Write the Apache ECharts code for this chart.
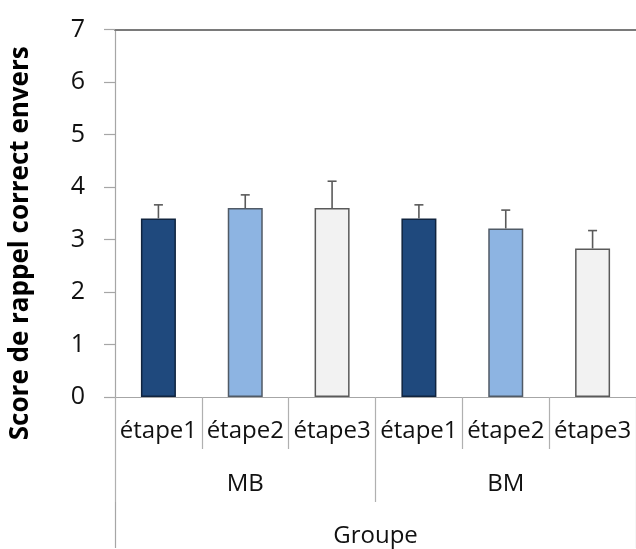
<!DOCTYPE html>
<html>
<head>
<meta charset="utf-8">
<script src="https://cdn.jsdelivr.net/npm/echarts@6/dist/echarts.min.js"></script>
<style>
html,body{margin:0;padding:0;background:#fff;}
#chart{width:636px;height:549px;}
</style>
</head>
<body>
<div id="chart"></div>
<script>
const categories = ['étape1','étape2','étape3','étape1','étape2','étape3'];
const groups = ['MB','BM'];
const outerLabel = ['Groupe'];
const values = [3.40, 3.60, 3.60, 3.40, 3.21, 2.83];
const errors = [0.26, 0.25, 0.51, 0.26, 0.35, 0.34];
const yTicks = [0, 1, 2, 3, 4, 5, 6, 7];
const yTitle = 'Score de rappel correct envers';

const fills = ['#1f497d','#8db4e2','#f2f2f2','#1f497d','#8db4e2','#f2f2f2'];
const borders = ['#10243f','#505a66','#5a5a5a','#10243f','#505a66','#5a5a5a'];

const FONT = 'Open Sans';
const chart = echarts.init(document.getElementById('chart'));

const barData = values.map((v, i) => ({
  value: v,
  itemStyle: { color: fills[i], borderColor: borders[i], borderWidth: 1.5 }
}));
const errData = values.map((v, i) => [i, v, errors[i]]);

chart.setOption({
  animation: false,
  backgroundColor: '#ffffff',
  grid: { left: 115, right: -9, top: 29.5, bottom: 151 },
  xAxis: [
    {
      type: 'category', data: categories, position: 'bottom',
      axisLine: { show: true, lineStyle: { color: '#a6a6a6', width: 1.2 } },
      axisTick: { show: true, interval: 0, length: 52, lineStyle: { color: '#b0b0b0', width: 1.2 } },
      axisLabel: { interval: 0, margin: 22, fontFamily: FONT, fontSize: 24, lineHeight: 25, color: '#111' }
    },
    {
      type: 'category', data: groups, position: 'bottom', offset: 52,
      axisLine: { show: false },
      axisTick: { show: true, interval: 0, length: 53, lineStyle: { color: '#b0b0b0', width: 1.2 } },
      axisLabel: { interval: 0, margin: 23, fontFamily: FONT, fontSize: 24, lineHeight: 25, color: '#111' }
    },
    {
      type: 'category', data: outerLabel, position: 'bottom', offset: 105,
      axisLine: { show: false },
      axisTick: { show: true, interval: 0, length: 46, lineStyle: { color: '#a6a6a6', width: 1.2 } },
      axisLabel: { interval: 0, margin: 22, fontFamily: FONT, fontSize: 24, lineHeight: 25, color: '#111' }
    },
    {
      type: 'category', data: categories, position: 'top',
      axisLine: { show: true, lineStyle: { color: '#7a7a7a', width: 2 } },
      axisTick: { show: false },
      axisLabel: { show: false }
    }
  ],
  yAxis: {
    type: 'value', min: yTicks[0], max: yTicks[yTicks.length - 1], interval: 1,
    name: yTitle, nameLocation: 'middle', nameRotate: 90, nameGap: 81,
    nameTextStyle: { fontFamily: FONT, fontWeight: 'bold', fontSize: 26, color: '#000', padding: [0, 60, 0, 0] },
    axisLine: { show: true, lineStyle: { color: '#a6a6a6', width: 1.2 } },
    axisTick: { show: true, inside: false, length: 11, lineStyle: { color: '#a6a6a6', width: 1.2 } },
    axisLabel: { margin: 30, fontFamily: FONT, fontSize: 25, color: '#111' },
    splitLine: { show: false }
  },
  series: [
    {
      type: 'bar', xAxisIndex: 0, yAxisIndex: 0, data: barData, barWidth: 35, z: 2
    },
    {
      type: 'custom', xAxisIndex: 0, yAxisIndex: 0, data: errData, z: 3,
      renderItem: function (params, api) {
        const x = api.value(0), v = api.value(1), e = api.value(2);
        const p0 = api.coord([x, v]);
        const p1 = api.coord([x, v + e]);
        const style = { stroke: '#5a5a5a', lineWidth: 1.6 };
        return {
          type: 'group',
          children: [
            { type: 'line', shape: { x1: p0[0], y1: p0[1], x2: p1[0], y2: p1[1] }, style: style },
            { type: 'line', shape: { x1: p1[0] - 4.5, y1: p1[1], x2: p1[0] + 4.5, y2: p1[1] }, style: style }
          ]
        };
      }
    }
  ]
});
</script>
</body>
</html>
